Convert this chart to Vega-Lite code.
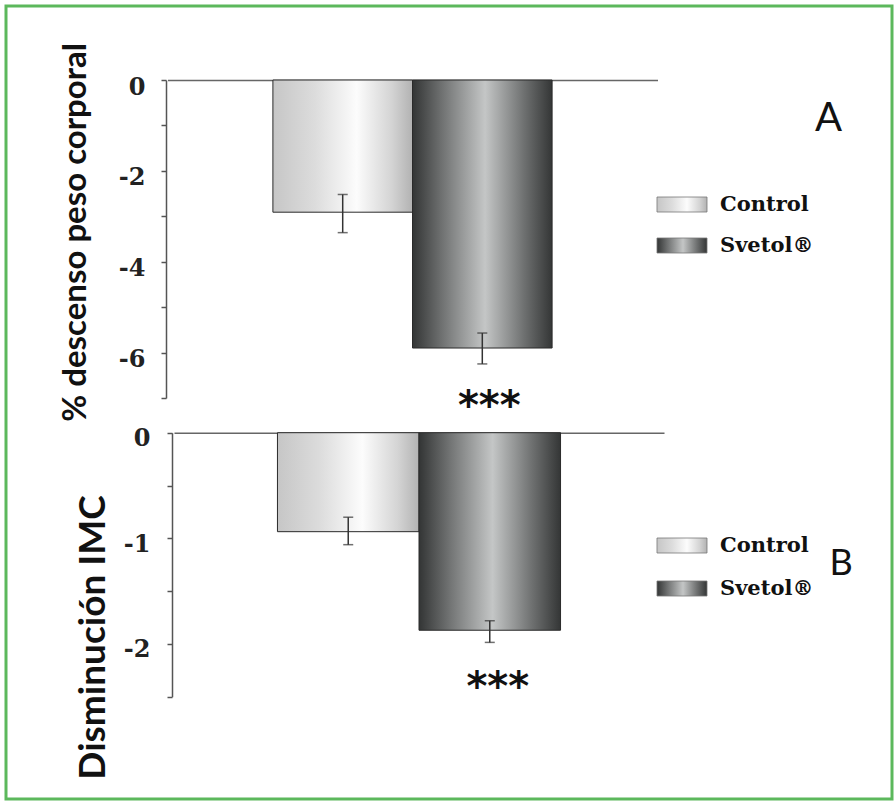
{
  "$schema": "https://vega.github.io/schema/vega-lite/v6.json",
  "width": 886,
  "height": 793,
  "autosize": {"type": "none"},
  "padding": {"left": 6, "top": 6, "right": 4, "bottom": 4},
  "background": "white",
  "config": {"view": {"stroke": "#5cb85c", "strokeWidth": 3, "fill": "white"}},
  "title": {"text": "A", "orient": "top", "anchor": "start", "frame": "group", "font": "Lato", "fontSize": 40, "fontWeight": "normal", "color": "#111", "dx": 809, "dy": 133, "offset": 0},
  "datasets": {
    "A": [
      {"group": "Control", "mean": -2.91, "lo": -3.36, "hi": -2.52, "sig": ""},
      {"group": "Svetol®", "mean": -5.9, "lo": -6.25, "hi": -5.57, "sig": "***"}
    ],
    "B": [
      {"group": "Control", "mean": -0.937, "lo": -1.06, "hi": -0.8, "sig": ""},
      {"group": "Svetol®", "mean": -1.87, "lo": -1.985, "hi": -1.78, "sig": "***"}
    ]
  },
  "layer": [
    {
      "data": {"name": "A"},
      "layer": [
        {
          "mark": {"type": "bar", "stroke": "#2a2a2a", "strokeWidth": 1},
          "encoding": {
            "x": {"field": "group", "type": "nominal", "scale": {"domain": ["Control", "Svetol®"], "range": [161.5, 651.5], "paddingInner": 0, "paddingOuter": 0.755},
              "axis": {"orient": "top", "offset": -74, "labels": false, "ticks": false, "title": null, "domainColor": "#666", "domainWidth": 1.5, "grid": false}},
            "y": {"field": "mean", "type": "quantitative", "scale": {"domain": [-7, 0], "range": [392, 74], "nice": false, "zero": false},
              "axis": {"orient": "left", "offset": -160, "values": [0, -1, -2, -3, -4, -5, -6, -7], "labelExpr": "datum.value % 2 === 0 ? '' + datum.value : ''", "grid": false, "tickSize": 5, "tickWidth": 1.5, "tickColor": "#555", "domainColor": "#555", "domainWidth": 1.5, "labelFont": "DejaVu Serif", "labelFontWeight": "bold", "labelFontSize": 24, "labelColor": "#222", "labelPadding": 16, "labelOffset": 7, "labelBaseline": "middle",
                "title": "% descenso peso corporal", "titleFont": "Lato", "titleFontSize": 33, "titleFontWeight": "bold", "titleColor": "#111", "titleX": -91, "titleY": 226, "titleAngle": -90, "titleAlign": "center", "titleBaseline": "middle"}},
            "fill": {"field": "group", "type": "nominal",
              "scale": {"domain": ["Control", "Svetol®"], "range": [
                {"expr": "{gradient: 'linear', x1: 0, y1: 0, x2: 1, y2: 0, stops: [{offset: 0, color: '#c6c6c6'}, {offset: 0.3, color: '#dcdcdc'}, {offset: 0.6, color: '#fcfcfc'}, {offset: 0.85, color: '#d4d4d4'}, {offset: 1, color: '#b2b2b2'}]}"},
                {"expr": "{gradient: 'linear', x1: 0, y1: 0, x2: 1, y2: 0, stops: [{offset: 0, color: '#333535'}, {offset: 0.22, color: '#727474'}, {offset: 0.52, color: '#c4c6c6'}, {offset: 0.8, color: '#6e7070'}, {offset: 1, color: '#343636'}]}"}
              ]},
              "legend": {"orient": "none", "legendX": 660.5, "legendY": 183, "title": null, "symbolType": "M-1.667,-0.5H1.667V0.5H-1.667Z", "symbolSize": 900, "symbolStrokeColor": "#777", "symbolStrokeWidth": 0.8, "labelFont": "DejaVu Serif", "labelFontWeight": "bold", "labelFontSize": 21, "labelColor": "#111", "labelOffset": 22.5, "rowPadding": 15, "labelBaseline": "middle"}}
          }
        },
        {
          "mark": {"type": "rule", "color": "#333", "strokeWidth": 1.5},
          "encoding": {
            "x": {"field": "group", "type": "nominal", "scale": {"domain": ["Control", "Svetol®"], "range": [161.5, 651.5], "paddingInner": 0, "paddingOuter": 0.755}},
            "y": {"field": "lo", "type": "quantitative", "scale": {"domain": [-7, 0], "range": [392, 74], "nice": false, "zero": false}},
            "y2": {"field": "hi"}
          }
        },
        {
          "mark": {"type": "tick", "color": "#333", "thickness": 1.5, "size": 10, "orient": "horizontal"},
          "encoding": {
            "x": {"field": "group", "type": "nominal", "scale": {"domain": ["Control", "Svetol®"], "range": [161.5, 651.5], "paddingInner": 0, "paddingOuter": 0.755}},
            "y": {"field": "lo", "type": "quantitative", "scale": {"domain": [-7, 0], "range": [392, 74], "nice": false, "zero": false}}
          }
        },
        {
          "mark": {"type": "tick", "color": "#333", "thickness": 1.5, "size": 10, "orient": "horizontal"},
          "encoding": {
            "x": {"field": "group", "type": "nominal", "scale": {"domain": ["Control", "Svetol®"], "range": [161.5, 651.5], "paddingInner": 0, "paddingOuter": 0.755}},
            "y": {"field": "hi", "type": "quantitative", "scale": {"domain": [-7, 0], "range": [392, 74], "nice": false, "zero": false}}
          }
        },
        {
          "mark": {"type": "text", "font": "DejaVu Sans", "fontWeight": "bold", "fontSize": 40, "baseline": "middle", "dy": 43, "dx": 7, "color": "#111"},
          "encoding": {
            "x": {"field": "group", "type": "nominal", "scale": {"domain": ["Control", "Svetol®"], "range": [161.5, 651.5], "paddingInner": 0, "paddingOuter": 0.755}},
            "y": {"field": "lo", "type": "quantitative", "scale": {"domain": [-7, 0], "range": [392, 74], "nice": false, "zero": false}},
            "text": {"field": "sig"}
          }
        }
      ]
    },
    {
      "data": {"name": "B"},
      "layer": [
        {
          "mark": {"type": "bar", "stroke": "#2a2a2a", "strokeWidth": 1},
          "encoding": {
            "x": {"field": "group", "type": "nominal", "scale": {"domain": ["Control", "Svetol®"], "range": [168, 658], "paddingInner": 0, "paddingOuter": 0.731},
              "axis": {"orient": "top", "offset": -426.7, "labels": false, "ticks": false, "title": null, "domainColor": "#666", "domainWidth": 1.5, "grid": false}},
            "y": {"field": "mean", "type": "quantitative", "scale": {"domain": [-2.5, 0], "range": [690.8, 426.7], "nice": false, "zero": false},
              "axis": {"orient": "left", "offset": -166, "values": [0, -0.5, -1, -1.5, -2, -2.5], "labelExpr": "datum.value % 1 === 0 ? '' + datum.value : ''", "grid": false, "tickSize": 5, "tickWidth": 1.5, "tickColor": "#555", "domainColor": "#555", "domainWidth": 1.5, "labelFont": "DejaVu Serif", "labelFontWeight": "bold", "labelFontSize": 24, "labelColor": "#222", "labelPadding": 17, "labelOffset": 6, "labelBaseline": "middle",
                "title": "Disminución IMC", "titleFont": "Lato", "titleFontSize": 37, "titleFontWeight": "bold", "titleColor": "#111", "titleX": -79, "titleY": 631, "titleAngle": -90, "titleAlign": "center", "titleBaseline": "middle"}},
            "fill": {"field": "group", "type": "nominal",
              "scale": {"domain": ["Control", "Svetol®"], "range": [
                {"expr": "{gradient: 'linear', x1: 0, y1: 0, x2: 1, y2: 0, stops: [{offset: 0, color: '#c6c6c6'}, {offset: 0.3, color: '#dcdcdc'}, {offset: 0.6, color: '#fcfcfc'}, {offset: 0.85, color: '#d4d4d4'}, {offset: 1, color: '#b2b2b2'}]}"},
                {"expr": "{gradient: 'linear', x1: 0, y1: 0, x2: 1, y2: 0, stops: [{offset: 0, color: '#333535'}, {offset: 0.22, color: '#727474'}, {offset: 0.52, color: '#c4c6c6'}, {offset: 0.8, color: '#6e7070'}, {offset: 1, color: '#343636'}]}"}
              ]},
              "legend": {"orient": "none", "legendX": 660.5, "legendY": 524, "title": "B", "titleOrient": "right", "titleFont": "Lato", "titleFontSize": 36, "titleFontWeight": "normal", "titleColor": "#111", "titlePadding": 16, "symbolType": "M-1.667,-0.5H1.667V0.5H-1.667Z", "symbolSize": 900, "symbolStrokeColor": "#777", "symbolStrokeWidth": 0.8, "labelFont": "DejaVu Serif", "labelFontWeight": "bold", "labelFontSize": 21, "labelColor": "#111", "labelOffset": 22.5, "rowPadding": 17, "labelBaseline": "middle"}}
          }
        },
        {
          "mark": {"type": "rule", "color": "#333", "strokeWidth": 1.5},
          "encoding": {
            "x": {"field": "group", "type": "nominal", "scale": {"domain": ["Control", "Svetol®"], "range": [168, 658], "paddingInner": 0, "paddingOuter": 0.731}},
            "y": {"field": "lo", "type": "quantitative", "scale": {"domain": [-2.5, 0], "range": [690.8, 426.7], "nice": false, "zero": false}},
            "y2": {"field": "hi"}
          }
        },
        {
          "mark": {"type": "tick", "color": "#333", "thickness": 1.5, "size": 10, "orient": "horizontal"},
          "encoding": {
            "x": {"field": "group", "type": "nominal", "scale": {"domain": ["Control", "Svetol®"], "range": [168, 658], "paddingInner": 0, "paddingOuter": 0.731}},
            "y": {"field": "lo", "type": "quantitative", "scale": {"domain": [-2.5, 0], "range": [690.8, 426.7], "nice": false, "zero": false}}
          }
        },
        {
          "mark": {"type": "tick", "color": "#333", "thickness": 1.5, "size": 10, "orient": "horizontal"},
          "encoding": {
            "x": {"field": "group", "type": "nominal", "scale": {"domain": ["Control", "Svetol®"], "range": [168, 658], "paddingInner": 0, "paddingOuter": 0.731}},
            "y": {"field": "hi", "type": "quantitative", "scale": {"domain": [-2.5, 0], "range": [690.8, 426.7], "nice": false, "zero": false}}
          }
        },
        {
          "mark": {"type": "text", "font": "DejaVu Sans", "fontWeight": "bold", "fontSize": 40, "baseline": "middle", "dy": 46, "dx": 8, "color": "#111"},
          "encoding": {
            "x": {"field": "group", "type": "nominal", "scale": {"domain": ["Control", "Svetol®"], "range": [168, 658], "paddingInner": 0, "paddingOuter": 0.731}},
            "y": {"field": "lo", "type": "quantitative", "scale": {"domain": [-2.5, 0], "range": [690.8, 426.7], "nice": false, "zero": false}},
            "text": {"field": "sig"}
          }
        }
      ]
    }
  ],
  "resolve": {
    "scale": {"x": "independent", "y": "independent", "fill": "independent"},
    "axis": {"x": "independent", "y": "independent"},
    "legend": {"fill": "independent"}
  }
}
